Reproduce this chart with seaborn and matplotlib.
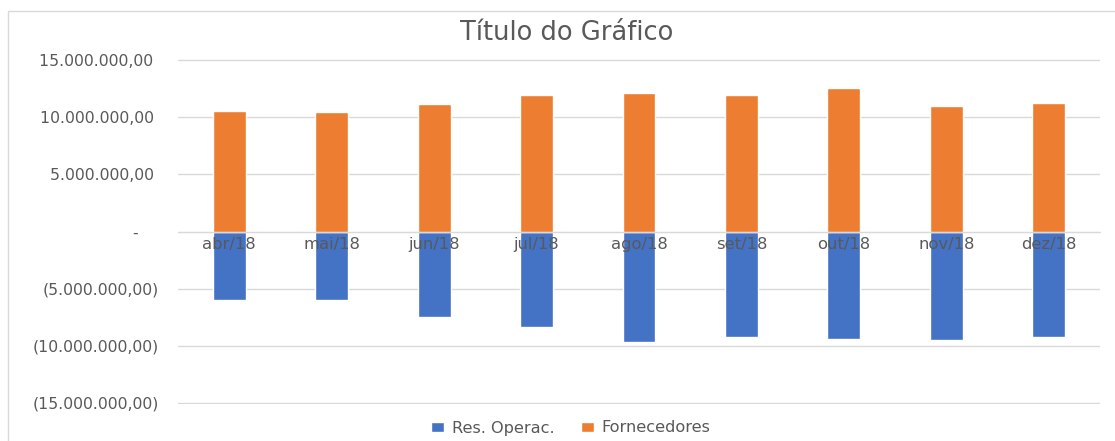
import matplotlib
matplotlib.use("Agg")
import matplotlib.pyplot as plt
import matplotlib.ticker as mticker
from matplotlib.patches import Rectangle
import pandas as pd
import seaborn as sns

# values
meses = ["abr/18", "mai/18", "jun/18", "jul/18", "ago/18", "set/18", "out/18", "nov/18", "dez/18"]
fornecedores = [10580000, 10490000, 11190000, 11980000, 12150000, 11980000, 12590000, 11000000, 11280000]
res_operac = [-6030000, -6030000, -7520000, -8390000, -9700000, -9270000, -9440000, -9530000, -9270000]

azul = "#4472C4"
laranja = "#ED7D31"
cinza = "#595959"

df = pd.DataFrame({
    "mes": meses * 2,
    "valor": res_operac + fornecedores,
    "serie": ["Res. Operac."] * len(meses) + ["Fornecedores"] * len(meses),
})

sns.set_style("white")
plt.rcParams["font.family"] = ["DejaVu Sans"]

fig = plt.figure(figsize=(11.15, 4.41), dpi=100)
ax = fig.add_axes([178 / 1115, 1 - 404 / 441, (1100 - 178) / 1115, (404 - 59) / 441])

sns.barplot(data=df, x="mes", y="valor", hue="serie", dodge=False, width=0.32,
            palette={"Res. Operac.": azul, "Fornecedores": laranja}, saturation=1,
            ax=ax, zorder=2)

ax.set_ylim(-15100000, 15100000)
ax.set_xlim(-0.5, len(meses) - 0.5)
ax.set_yticks(range(-15000000, 15000001, 5000000))


def fmt(v, pos):
    if v == 0:
        return "-    "
    s = f"{abs(v):,.2f}".replace(",", "X").replace(".", ",").replace("X", ".")
    return f"({s})" if v < 0 else s + " "


ax.yaxis.set_major_formatter(mticker.FuncFormatter(fmt))
ax.tick_params(axis="y", length=0, pad=14, labelsize=11.3, labelcolor=cinza)
ax.set_axisbelow(True)
ax.yaxis.grid(True, color="#d9d9d9", linewidth=1)
ax.xaxis.grid(False)

# category axis crosses at zero, labels drawn over the bars
ax.set_xticks([i + 0.5 for i in range(-1, len(meses))], minor=True)
ax.set_xticks(range(len(meses)))
ax.set_xticklabels([])
ax.tick_params(axis="x", which="major", length=0)
ax.tick_params(axis="x", which="minor", length=4, color="#d9d9d9", direction="out")
for s in ["top", "right", "left"]:
    ax.spines[s].set_visible(False)
ax.spines["bottom"].set_position(("data", 0))
ax.spines["bottom"].set_color("#d9d9d9")
for i, m in enumerate(meses):
    ax.text(i, -450000, m, ha="center", va="top", fontsize=11.8, color=cinza, zorder=5)

ax.set_xlabel("")
ax.set_ylabel("")

handles, labels = ax.get_legend_handles_labels()
ax.legend(handles, labels, loc="center", bbox_to_anchor=(571 / 1115, 1 - 428 / 441),
          bbox_transform=fig.transFigure, ncol=2, frameon=False, fontsize=11.6,
          labelcolor=cinza, handlelength=0.8, handleheight=0.6, columnspacing=1.6,
          handletextpad=0.5)

fig.text(567 / 1115, 1 - 33 / 441, "Título do Gráfico", ha="center", va="center",
         fontsize=18.5, color=cinza)

fig.patches.append(Rectangle((8 / 1115, -0.05), 1.2, 1 - 11 / 441 + 0.05,
                             transform=fig.transFigure, fill=False,
                             edgecolor="#d9d9d9", linewidth=1))

fig.savefig("out.png", dpi=100)
